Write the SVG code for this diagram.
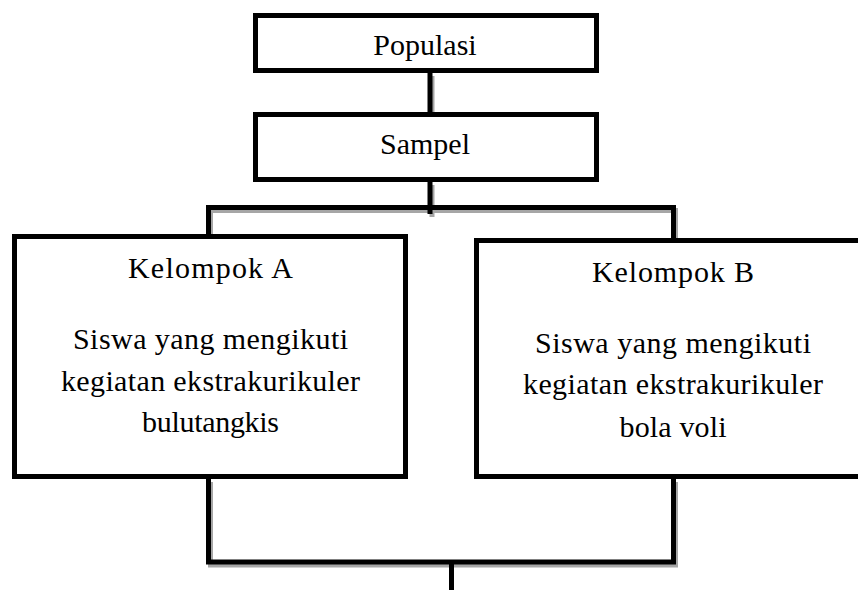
<svg xmlns="http://www.w3.org/2000/svg" width="858" height="590" viewBox="0 0 858 590">
<style>
.box{fill:#fff;stroke:#000;stroke-width:5}
.ln{fill:none;stroke:#000;stroke-width:5;stroke-linecap:butt;stroke-linejoin:miter}
.sh{fill:none;stroke:#a6a6a6;stroke-width:5;stroke-linecap:butt;stroke-linejoin:miter}
.t{font-family:'Liberation Serif','Times New Roman',serif;font-size:30px;fill:#000;text-anchor:middle}
</style>
<rect width="858" height="590" fill="#fff"/>
<g id="connectors">
<g transform="translate(2,3)">
<path class="sh" d="M430,73 V112"/>
<path class="sh" d="M430,182 V214"/>
<path class="sh" d="M208.5,236 V207.5 H673.5 V240"/>
<path class="sh" d="M208.5,479 V562 H673.5 V479"/>
</g>
<path class="ln" d="M430,73 V112"/>
<path class="ln" d="M430,182 V214"/>
<path class="ln" d="M208.5,236 V207.5 H673.5 V240"/>
<path class="ln" d="M208.5,479 V562 H673.5 V479"/>
<path class="ln" d="M451.5,562 V590"/>
</g>
<g id="populasi">
<rect class="box" x="255.5" y="15.5" width="341" height="55"/>
<text class="t" x="425" y="55">Populasi</text>
</g>
<g id="sampel">
<rect class="box" x="255.5" y="114.5" width="341" height="65"/>
<text class="t" x="425" y="154">Sampel</text>
</g>
<g id="kelompok-a">
<rect class="box" x="14.5" y="236.5" width="391" height="240"/>
<text class="t" x="210.5" y="278" textLength="165" lengthAdjust="spacing">Kelompok A</text>
<text class="t" x="210.5" y="349" textLength="275" lengthAdjust="spacing">Siswa yang mengikuti</text>
<text class="t" x="210.5" y="391" textLength="299" lengthAdjust="spacing">kegiatan ekstrakurikuler</text>
<text class="t" x="210.5" y="432" textLength="137" lengthAdjust="spacing">bulutangkis</text>
</g>
<g id="kelompok-b">
<rect class="box" x="476.5" y="240.5" width="393" height="236"/>
<text class="t" x="673" y="282" textLength="162" lengthAdjust="spacing">Kelompok B</text>
<text class="t" x="673" y="353" textLength="276" lengthAdjust="spacing">Siswa yang mengikuti</text>
<text class="t" x="673" y="394" textLength="300" lengthAdjust="spacing">kegiatan ekstrakurikuler</text>
<text class="t" x="673" y="437" textLength="107" lengthAdjust="spacing">bola voli</text>
</g>
</svg>
